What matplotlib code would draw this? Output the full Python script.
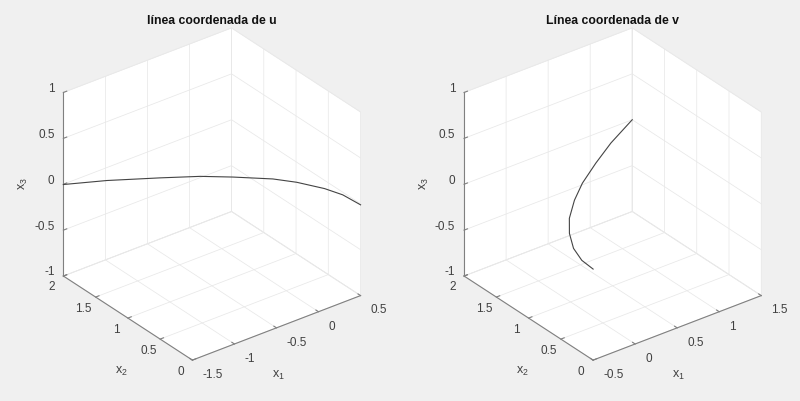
import matplotlib
matplotlib.use("Agg")
from matplotlib import pyplot as plt

plt.rcParams['font.family'] = ['Liberation Sans', 'DejaVu Sans']
plt.rcParams['mathtext.fontset'] = 'custom'
plt.rcParams['mathtext.rm'] = 'Liberation Sans'
plt.rcParams['mathtext.it'] = 'Liberation Sans'
plt.rcParams['grid.color'] = '#e8e8e8'
plt.rcParams['grid.linewidth'] = 0.55

# linea coordenada de u
u_x1 = [-1.5, -1.207, -0.849, -0.58, -0.36, -0.09, 0.07, 0.258, 0.38, 0.5]
u_x2 = [2, 1.707, 1.349, 1.08, 0.86, 0.59, 0.43, 0.242, 0.12, 0]
u_x3 = [-0.003, 0.072, 0.139, 0.184, 0.2, 0.208, 0.189, 0.14, 0.085, -0.011]

# linea coordenada de v
v_x1 = [1.5, 0.94, 0.53, 0.14, -0.108, -0.322, -0.398, -0.472, -0.496, -0.5]
v_x2 = [2, 1.6, 1.3, 1.0, 0.8, 0.6, 0.5, 0.34, 0.18, 0]
v_x3 = [0, 0.127, 0.189, 0.245, 0.238, 0.208, 0.116, 0.052, 0.003, -0.008]

u_x1_ticks = [-1.5, -1, -0.5, 0, 0.5]
v_x1_ticks = [-0.5, 0, 0.5, 1, 1.5]
x2_ticks = [0, 0.5, 1, 1.5, 2]
x3_ticks = [-1, -0.5, 0, 0.5, 1]

W, H = 800, 401
BG = '#f0f0f0'
TXT = '#404040'
SIZE = 360
BOTTOM = 22.1


def panel(left, title, x1, x2, x3, x1_ticks):
    ax = fig.add_axes([left / W, BOTTOM / H, SIZE / W, SIZE / H], projection='3d')
    ax.set_proj_type('ortho')
    ax.view_init(elev=30, azim=-127.5)
    ax.set_box_aspect((1, 1, 1), zoom=0.99)
    ax.set_facecolor(BG)

    ax.plot(x1, x2, x3, color='#444444', lw=0.8)

    ax.set_xlim(x1_ticks[0], x1_ticks[-1])
    ax.set_ylim(0, 2)
    ax.set_zlim(-1, 1)
    ax.set_xticks(x1_ticks)
    ax.set_yticks(x2_ticks)
    ax.set_zticks(x3_ticks)
    ax.set_xticklabels([f'{t:g}' for t in x1_ticks], ha='left', va='bottom')
    ax.set_yticklabels([f'{t:g}' for t in x2_ticks], ha='center', va='bottom')
    ax.set_zticklabels([f'{t:g}' for t in x3_ticks], ha='right', va='baseline')
    ax.zaxis.set_ticks_position('upper')

    for axis in (ax.xaxis, ax.yaxis, ax.zaxis):
        axis.set_pane_color('white')
        axis.pane.set_edgecolor('#ebebeb')
        axis.pane.set_linewidth(0.5)
        axis.line.set_color('#808080')
        axis.line.set_linewidth(0.8)
        axis._axinfo['tick']['inward_factor'] = 0.0
        axis._axinfo['tick']['outward_factor'] = 0.25
    ax.tick_params(labelsize=8.5, labelcolor=TXT, color='#808080', width=0.7)
    ax.tick_params(axis='x', pad=2.5)
    ax.tick_params(axis='y', pad=1.5)
    ax.tick_params(axis='z', pad=-4)

    # axis names go where the reference has them, mplot3d would slide them along the axes
    def name(px, py, text, **kw):
        ax.text2D((px - left) / SIZE, (H - py - BOTTOM) / SIZE, text, transform=ax.transAxes,
                  fontsize=9, color=TXT, ha='center', va='center', **kw)
    name(left - 27.1 + 278, 375, 'x$_1$')
    name(left - 27.1 + 121.5, 371, 'x$_2$')
    name(left - 27.1 + 23.5, 184, 'x$_3$', rotation=90)

    ax.set_title(title, fontsize=8.8, fontweight='bold', color='#111111',
                 x=0.5135, y=0.986, pad=0)
    ax.title.set_y(0.986)
    return ax


fig = plt.figure(figsize=(W / 100, H / 100), dpi=100, facecolor=BG)
panel(27.1, 'línea coordenada de u', u_x1, u_x2, u_x3, u_x1_ticks)
panel(427.8, 'Línea coordenada de v', v_x1, v_x2, v_x3, v_x1_ticks)

fig.savefig('out.png', dpi=100, facecolor=BG)
